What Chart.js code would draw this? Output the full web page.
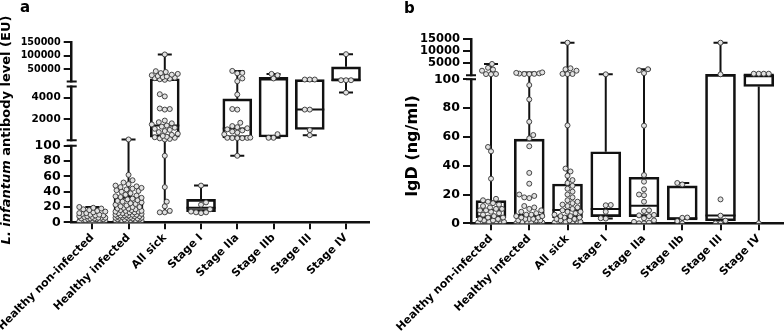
<!DOCTYPE html>
<html>
<head>
<meta charset="utf-8">
<script src="https://cdn.jsdelivr.net/npm/chart.js@4.4.1/dist/chart.umd.min.js"></script>
<style>
  body { margin: 0; background: #fff; }
  canvas { position: absolute; top: 0; }
</style>
</head>
<body>
<canvas id="chartA" width="392" height="331" style="left:0"></canvas>
<canvas id="chartB" width="392" height="331" style="left:392px"></canvas>
<script>
const categories = ['Healthy non-infected', 'Healthy infected', 'All sick', 'Stage I', 'Stage IIa', 'Stage IIb', 'Stage III', 'Stage IV'];

// panel a - L. infantum antibody level (EU)
const aTickValues = [0, 20, 40, 60, 80, 100, 2000, 4000, 50000, 100000, 150000];
const aMin = [0, 0, 13, 12, 87, 330, 570, 4450];
const aQ1 = [2, 3, 390, 14, 330, 400, 1090, 7000];
const aMed = [5, 15, 1450, 19, 1180, 12000, 2900, 9500];
const aQ3 = [9, 34, 15000, 30, 3870, 20000, 12000, 59000];
const aMax = [20, 180, 105000, 48, 44000, 33000, 12000, 106000];
const aPoints = [
  [20, 19, 18, 17, 16, 15, 14, 13, 12, 12, 11, 10, 10, 9, 9, 8, 8, 7, 7, 6, 6, 6, 5, 5, 5, 4, 4, 4, 3, 3, 3, 2, 2, 2, 1, 1, 1, 0, 0, 0],
  [180, 62, 55, 52, 50, 48, 47, 46, 45, 44, 43, 42, 41, 40, 38, 36, 35, 34, 33, 32, 31, 30, 29, 28, 27, 26, 25, 24, 23, 22, 21, 20, 20, 19, 18, 18, 17, 16, 16, 15, 15, 14, 14, 13, 13, 12, 12, 11, 11, 10, 10, 10, 9, 9, 9, 8, 8, 8, 7, 7, 7, 6, 6, 6, 5, 5, 5, 4, 4, 4, 3, 3, 3, 2, 2, 2, 1, 1, 1, 0, 0],
  [105000, 43000, 40000, 36000, 33000, 30000, 28000, 25000, 23000, 21000, 19000, 17000, 15000, 13000, 11000,
   4300, 4100, 3000, 2950, 2900, 1900, 1750, 1650, 1550, 1450, 1350, 1250, 1150, 1050, 950, 850, 700, 600, 500, 420, 380, 330, 280, 230, 180,
   87, 46, 27, 21, 15, 13, 13],
  [48, 26, 23, 17, 14, 13, 13, 12],
  [44000, 36600, 35000, 16000, 5800, 4270, 2950, 2900, 1700, 1400, 1300, 1200, 1100, 1000, 900, 800, 650, 350, 330, 320, 310, 300, 300, 87],
  [33000, 28000, 16000, 660, 330, 330],
  [12000, 12000, 12000, 2900, 2900, 1030, 570],
  [106000, 9500, 9500, 9500, 4450]
];

// panel b - IgD (ng/ml)
const bTickValues = [0, 20, 40, 60, 80, 100, 5000, 10000, 15000];
const bMin = [0, 0, 0, 3.3, 0, 0, 0, 0];
const bQ1 = [3.9, 4.2, 3.9, 4.6, 4.6, 2.3, 1.8, 95];
const bMed = [9.2, 5.8, 9.2, 9.9, 12.2, 3.5, 5.5, 300];
const bQ3 = [15.7, 58.5, 27.3, 49.7, 32, 26, 500, 300];
const bMax = [4800, 1300, 13600, 514, 2600, 28, 13600, 760];
const bPoints = [
  [4800, 3200, 2500, 2000, 650, 600, 550, 53, 50, 31, 17, 16, 15, 14, 13, 12, 11, 10, 10, 9, 9, 8, 7, 6, 5, 4, 4, 3, 3, 2, 2, 1, 1, 0.5, 0, 0, 0, 0, 0],
  [1300, 1100, 900, 800, 700, 650, 600, 96, 86, 70.5, 61.3, 59, 53.5, 35, 27.5, 20, 19, 18, 17.5, 12, 11, 10, 9, 8, 7, 6, 6, 5, 5, 4, 4, 3, 3, 3, 2, 2, 2, 1, 1, 1, 0.5, 0, 0, 0, 0, 0, 0],
  [13600, 3000, 2600, 2000, 700, 640, 600, 68, 38, 36, 33, 30, 28, 26, 24, 22, 20, 18, 16, 15, 14, 13, 12, 11, 10, 9, 8, 8, 7, 6, 5, 5, 4, 4, 3, 3, 2, 2, 1, 1, 0.5, 0, 0, 0, 0, 0],
  [514, 12.7, 12.5, 8, 3.5, 3.3],
  [2600, 2200, 1000, 67.8, 33.5, 28.9, 23.6, 20, 19.5, 15, 9, 8.5, 5.8, 5.5, 5, 3.5, 2, 1, 0.5, 0, 0],
  [28, 27, 4, 3.8, 1.5, 0],
  [13600, 500, 16.6, 5.3, 1.8, 0, 0],
  [760, 760, 760, 760, 0]
];

const FONT = 'DejaVu Sans';
const INK = '#111';

// broken axis: each piece maps a value range onto axis units (about 1 unit = 1px)
function brokenMap(segs) {
  return function (v) {
    for (let i = 0; i < segs.length; i++) {
      const s = segs[i];
      if (v <= s.hi || i == segs.length - 1) {
        return s.u0 + (Math.max(v, s.lo) - s.lo) / (s.hi - s.lo) * (s.u1 - s.u0);
      }
    }
  };
}

// simple beeswarm so the dots don't sit on top of each other
function swarm(vals, map, pxPerCat, idx) {
  const placed = [];
  const out = [];
  const order = vals.map((v, i) => i).sort((p, q) => map(vals[p]) - map(vals[q]));
  let side = 1;
  order.forEach(k => {
    const y = map(vals[k]);
    let best = 0, bestGap = -1;
    for (let step = 0; step <= 13; step++) {
      const cands = step == 0 ? [0] : [step * side, -step * side];
      let ok = false;
      for (const dx of cands) {
        let gap = Infinity;
        placed.forEach(p => { gap = Math.min(gap, Math.hypot(p.dx - dx, p.y - y)); });
        if (gap >= 5) { best = dx; ok = true; break; }
        if (gap > bestGap) { bestGap = gap; best = dx; }
      }
      if (ok) break;
    }
    side = -side;
    placed.push({ dx: best, y: y });
    out.push({ x: idx + best / pxPerCat, y: y });
  });
  return out;
}

function buildPanel(canvasId, p) {
  const map = brokenMap(p.segs);
  const uMax = p.segs[p.segs.length - 1].u1;
  const whisk = [], caps = [], boxes = [], meds = [], dots = [];
  p.cats.forEach((c, i) => {
    whisk.push({ x: i, y: map(p.min[i]) }, { x: i, y: map(p.q1[i]) }, { x: i, y: null },
               { x: i, y: map(p.q3[i]) }, { x: i, y: map(p.max[i]) }, { x: i, y: null });
    caps.push({ x: i, y: map(p.min[i]) }, { x: i, y: map(p.max[i]) });
    boxes.push({ x: i, y: [map(p.q1[i]), map(p.q3[i])] });
    meds.push({ x: i, y: map(p.med[i]) });
    dots.push(...swarm(p.points[i], map, p.pxPerCat, i));
  });

  const decor = {
    id: 'decor',
    afterDraw(chart) {
      const ctx = chart.ctx;
      const ys = chart.scales.y;
      const ax = ys.right;
      ctx.save();
      // axis breaks
      for (let k = 0; k < p.segs.length - 1; k++) {
        const y1 = ys.getPixelForValue(p.segs[k].u1);
        const y2 = ys.getPixelForValue(p.segs[k + 1].u0);
        ctx.fillStyle = '#fff';
        ctx.fillRect(ax - 4, y2 + 1, 8, y1 - y2 - 2);
        ctx.strokeStyle = INK;
        ctx.lineWidth = 2;
        ctx.beginPath();
        ctx.moveTo(ax - 5, y1); ctx.lineTo(ax + 5, y1);
        ctx.moveTo(ax - 5, y2); ctx.lineTo(ax + 5, y2);
        ctx.stroke();
      }
      // y title, can mix italic and upright parts
      ctx.fillStyle = '#000';
      ctx.textBaseline = 'middle';
      ctx.textAlign = 'left';
      let total = 0;
      p.title.parts.forEach(t => {
        ctx.font = (t.italic ? 'italic ' : '') + 'bold ' + p.title.size + 'px ' + FONT;
        total += ctx.measureText(t.text).width;
      });
      ctx.translate(p.title.x, p.title.y);
      ctx.rotate(-Math.PI / 2);
      let cx = -total / 2;
      p.title.parts.forEach(t => {
        ctx.font = (t.italic ? 'italic ' : '') + 'bold ' + p.title.size + 'px ' + FONT;
        ctx.fillText(t.text, cx, 0);
        cx += ctx.measureText(t.text).width;
      });
      ctx.setTransform(1, 0, 0, 1, 0, 0);
      // panel letter
      ctx.font = 'bold 15px ' + FONT;
      ctx.textBaseline = 'alphabetic';
      ctx.fillText(p.letter.text, p.letter.x, p.letter.y);
      ctx.restore();
    }
  };

  return new Chart(document.getElementById(canvasId), {
    type: 'scatter',
    data: {
      datasets: [
        { type: 'scatter', data: dots, pointRadius: 2.5, backgroundColor: '#e2e2e2', borderColor: '#333', borderWidth: 0.9, order: 0 },
        { type: 'scatter', data: meds, pointStyle: 'line', pointRadius: p.boxW / 2, borderColor: INK, borderWidth: 2, order: 1 },
        { type: 'scatter', data: caps, pointStyle: 'line', pointRadius: 7, borderColor: INK, borderWidth: 2, order: 1 },
        { type: 'bar', data: boxes, barThickness: p.boxW, backgroundColor: 'rgba(255,255,255,0)', borderColor: INK, borderWidth: 2, borderSkipped: false, order: 2 },
        { type: 'scatter', data: whisk, showLine: true, pointRadius: 0, borderColor: INK, borderWidth: 2, order: 3 }
      ]
    },
    options: {
      responsive: false,
      animation: false,
      events: [],
      layout: { autoPadding: false, padding: { top: p.top, right: p.right, left: 0, bottom: 0 } },
      plugins: { legend: { display: false }, tooltip: { enabled: false } },
      scales: {
        x: {
          type: 'linear',
          offset: false,
          min: p.xMin,
          max: p.xMax,
          afterBuildTicks: s => { s.ticks = p.cats.map((c, i) => ({ value: i })); },
          afterFit: s => { s.height = p.xH; s.paddingLeft = 0; s.paddingRight = 0; },
          ticks: {
            autoSkip: false, minRotation: 45, maxRotation: 45, padding: 2, color: '#000',
            font: { family: FONT, size: 11, weight: 'bold' },
            callback: v => p.cats[v]
          },
          grid: { offset: false, drawOnChartArea: false, tickLength: 7, lineWidth: 2, color: INK },
          border: { color: INK, width: 2.5 }
        },
        y: {
          type: 'linear',
          min: 0,
          max: uMax,
          afterBuildTicks: s => { s.ticks = p.ticks.map(v => ({ value: map(v) })); },
          afterFit: s => { s.width = p.yW; s.paddingTop = 0; s.paddingBottom = 0; },
          ticks: {
            autoSkip: false, padding: 3, color: '#000',
            font: c => ({ family: FONT, weight: 'bold', size: p.tickSize(p.ticks[c.index]) }),
            callback: (v, i) => String(p.ticks[i])
          },
          grid: { drawOnChartArea: false, tickLength: 8, lineWidth: 2, color: INK },
          border: { color: INK, width: 2.5 }
        }
      }
    },
    plugins: [decor]
  });
}

buildPanel('chartA', {
  cats: categories, ticks: aTickValues,
  min: aMin, q1: aQ1, med: aMed, q3: aQ3, max: aMax, points: aPoints,
  segs: [{ lo: 0, hi: 100, u0: 0, u1: 76.6 }, { lo: 100, hi: 5000, u0: 82.1, u1: 136 }, { lo: 5000, hi: 150000, u0: 141.1, u1: 180.3 }],
  tickSize: v => v >= 50000 ? 9.6 : (v > 100 ? 10.5 : 12.5),
  top: 42.3, right: 23.5, yW: 71.7, xH: 108.7, xMin: -0.568, xMax: 7.62, pxPerCat: 36.24, boxW: 29,
  title: { x: 7, y: 130, size: 13, parts: [{ text: 'L. infantum', italic: true }, { text: ' antibody level (EU)' }] },
  letter: { text: 'a', x: 20, y: 12 }
});

buildPanel('chartB', {
  cats: categories, ticks: bTickValues,
  min: bMin, q1: bQ1, med: bMed, q3: bQ3, max: bMax, points: bPoints,
  segs: [{ lo: 0, hi: 100, u0: 0, u1: 144 }, { lo: 100, hi: 15000, u0: 148, u1: 184 }],
  tickSize: v => v >= 5000 ? 11.5 : 12.5,
  top: 39.3, right: 0, yW: 79, xH: 107.7, xMin: -0.523, xMax: 7.66, pxPerCat: 38.23, boxW: 30,
  title: { x: 21, y: 146, size: 16, parts: [{ text: 'IgD (ng/ml)' }] },
  letter: { text: 'b', x: 12, y: 13 }
});
</script>
</body>
</html>
